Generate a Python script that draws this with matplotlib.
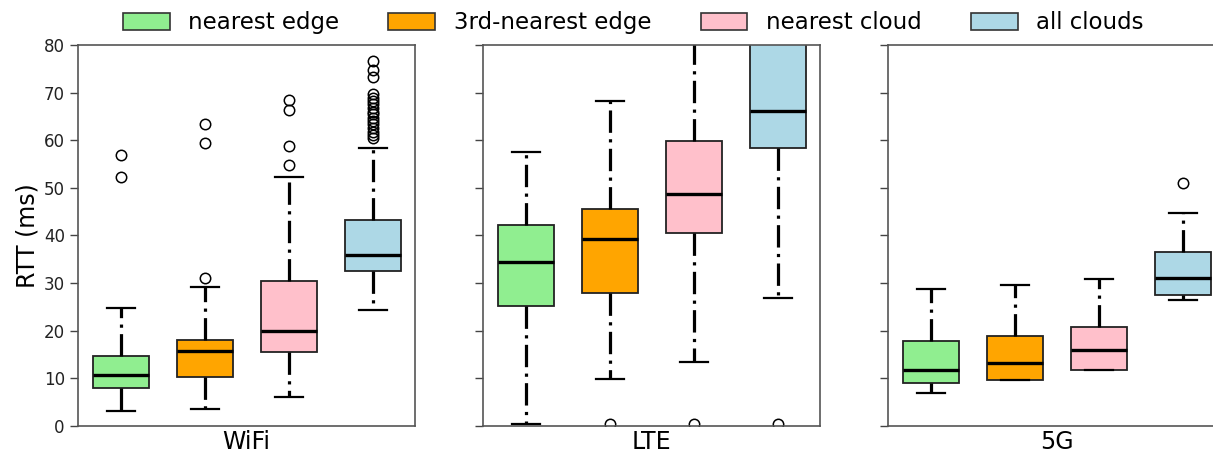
import numpy as np
import matplotlib
matplotlib.use("Agg")
import matplotlib.pyplot as plt
from matplotlib.patches import Patch

# RTT (ms) box stats per network / target
networks = ["WiFi", "LTE", "5G"]
targets = ["nearest edge", "3rd-nearest edge", "nearest cloud", "all clouds"]
colors = ["lightgreen", "orange", "pink", "lightblue"]

whislo = {"WiFi": [3.0, 3.6, 6.0, 24.3],
          "LTE":  [0.3, 9.9, 13.4, 26.9],
          "5G":   [6.8, 9.5, 11.6, 26.4]}
q1 = {"WiFi": [8.0, 10.3, 15.4, 32.6],
      "LTE":  [25.2, 27.8, 40.4, 58.4],
      "5G":   [8.9, 9.6, 11.7, 27.5]}
med = {"WiFi": [10.6, 15.7, 19.9, 35.8],
       "LTE":  [34.3, 39.2, 48.7, 66.1],
       "5G":   [11.8, 13.2, 15.9, 31.0]}
q3 = {"WiFi": [14.6, 18.1, 30.4, 43.2],
      "LTE":  [42.2, 45.5, 59.8, 95.0],
      "5G":   [17.8, 18.8, 20.7, 36.6]}
whishi = {"WiFi": [24.7, 29.1, 52.2, 58.4],
          "LTE":  [57.6, 68.2, 95.0, 120.0],
          "5G":   [28.7, 29.6, 30.8, 44.8]}
fliers = {"WiFi": [[52.3, 56.9],
                   [31.1, 59.5, 63.3],
                   [54.8, 58.8, 66.3, 68.4],
                   [60.4, 61.0, 61.8, 62.6, 63.3, 64.0, 64.7, 65.4, 66.0,
                    66.8, 67.6, 68.2, 68.9, 69.8, 73.3, 74.7, 76.7]],
          "LTE":  [[], [0.3], [0.3], [0.3]],
          "5G":   [[], [], [], [51.1]]}

fig = plt.figure(figsize=(12.13, 4.58), dpi=100)
W, H = 1213.0, 458.0
lefts = [78, 483, 888]
ax_w = 337
ax_bottom = (H - 425.7) / H
ax_h = (425.7 - 45) / H

for i, net in enumerate(networks):
    ax = fig.add_axes([lefts[i] / W, ax_bottom, ax_w / W, ax_h])
    stats = []
    for j in range(4):
        stats.append(dict(whislo=whislo[net][j], q1=q1[net][j], med=med[net][j],
                          q3=q3[net][j], whishi=whishi[net][j],
                          fliers=fliers[net][j]))
    bp = ax.bxp(stats, positions=[1, 2, 3, 4], widths=0.67, patch_artist=True,
                showfliers=True, capwidths=0.33,
                boxprops=dict(edgecolor="#222222", linewidth=1.3),
                medianprops=dict(color="black", linewidth=2.4),
                whiskerprops=dict(color="black", linewidth=2.3,
                                  linestyle=(0, (7, 2, 1, 2))),
                capprops=dict(color="black", linewidth=1.6),
                flierprops=dict(marker="o", markerfacecolor="none",
                                markeredgecolor="black", markersize=7.5,
                                markeredgewidth=1.1))
    for patch, c in zip(bp["boxes"], colors):
        patch.set_facecolor(c)
    ax.set_xlim(0.49, 4.5)
    ax.set_ylim(0, 80)
    ax.set_yticks(np.arange(0, 81, 10))
    ax.set_xticks([])
    ax.tick_params(axis="y", direction="out", length=6, width=1,
                   color="#444444", labelsize=12, labelcolor="#222222")
    for s in ax.spines.values():
        s.set_color("#555555")
        s.set_linewidth(1.2)
    ax.set_xlabel(net, fontsize=17, labelpad=3)
    if i == 0:
        ax.set_ylabel("RTT (ms)", fontsize=17, labelpad=3)
    else:
        ax.set_yticklabels([])

handles = [Patch(facecolor=c, edgecolor="#333333", linewidth=1.2) for c in colors]
fig.legend(handles, targets, loc="upper center", bbox_to_anchor=(0.522, 1.02),
           ncol=4, frameon=False, fontsize=16.5, handlelength=2.05,
           handleheight=0.72, handletextpad=0.8, columnspacing=2.15)

fig.savefig("out.png", dpi=100)
